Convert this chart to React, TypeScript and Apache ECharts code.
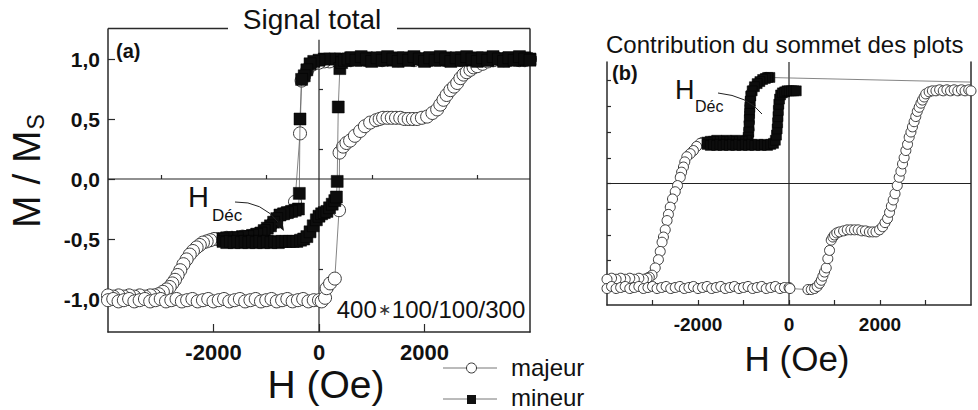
import React, { useEffect, useRef } from "react";
import * as echarts from "echarts";

const FONT = "'Liberation Sans', Arial, Helvetica, sans-serif";

// ---------- Panel (a) : Signal total ----------
const majeurA_desc: [number, number][] = [
  [4000, 1.0], [3900, 0.99], [3800, 1.0], [3700, 1.0], [3600, 0.99], [3500, 1.0], [3400, 1.0], [3300, 0.99],
  [3200, 1.0], [3100, 1.0], [3000, 0.99], [2900, 1.0], [2800, 1.0], [2700, 0.99], [2600, 1.0], [2500, 1.0],
  [2400, 0.99], [2300, 1.0], [2200, 1.0], [2100, 0.99], [2000, 1.0], [1900, 1.0], [1800, 0.99], [1700, 1.0],
  [1600, 1.0], [1500, 0.99], [1400, 1.0], [1300, 1.0], [1200, 0.99], [1100, 1.0], [1000, 1.0], [900, 0.99],
  [800, 1.0], [700, 1.0], [600, 0.99], [500, 0.99], [400, 0.99], [300, 0.99], [200, 0.98], [100, 0.98],
  [0, 0.97], [-100, 0.96], [-170, 0.94], [-230, 0.9], [-280, 0.86], [-330, 0.82], [-360, 0.38], [-455, -0.19],
  [-520, -0.27], [-600, -0.28], [-670, -0.29], [-740, -0.3], [-800, -0.33], [-860, -0.36], [-920, -0.39],
  [-980, -0.41], [-1040, -0.43], [-1100, -0.45], [-1180, -0.46], [-1260, -0.47], [-1350, -0.48], [-1450, -0.48],
  [-1550, -0.49], [-1650, -0.49], [-1750, -0.49], [-1850, -0.5], [-1920, -0.5], [-1990, -0.5], [-2060, -0.51],
  [-2130, -0.52], [-2200, -0.53], [-2260, -0.55], [-2320, -0.57], [-2390, -0.6], [-2450, -0.63], [-2510, -0.67],
  [-2570, -0.71], [-2630, -0.76], [-2680, -0.8], [-2730, -0.84], [-2780, -0.87], [-2830, -0.9], [-2890, -0.92],
  [-2960, -0.94], [-3040, -0.96], [-3120, -0.97], [-3200, -0.97], [-3300, -0.98], [-3400, -0.97], [-3500, -0.98],
  [-3600, -0.97], [-3700, -0.98], [-3800, -0.97], [-3900, -0.98], [-4000, -0.97],
];

const majeurA_asc: [number, number][] = [
  [-4000, -1.01], [-3900, -1.0], [-3800, -1.02], [-3700, -1.01], [-3600, -1.0], [-3500, -1.02], [-3400, -1.01],
  [-3300, -1.0], [-3200, -1.02], [-3100, -1.01], [-3000, -1.0], [-2900, -1.02], [-2800, -1.01], [-2700, -1.0],
  [-2600, -1.02], [-2500, -1.01], [-2400, -1.0], [-2300, -1.02], [-2200, -1.01], [-2100, -1.0], [-2000, -1.02],
  [-1900, -1.01], [-1800, -1.0], [-1700, -1.02], [-1600, -1.01], [-1500, -1.0], [-1400, -1.02], [-1300, -1.01],
  [-1200, -1.0], [-1100, -1.02], [-1000, -1.01], [-900, -1.0], [-800, -1.02], [-700, -1.01], [-600, -1.0],
  [-500, -1.02], [-400, -1.01], [-300, -1.0], [-200, -1.02], [-100, -1.01], [0, -1.01], [50, -1.02],
  [115, -0.99], [145, -0.91], [210, -0.87], [300, -0.83], [380, -0.26], [390, 0.22], [457, 0.27], [520, 0.3],
  [590, 0.32], [680, 0.36], [780, 0.4], [870, 0.44], [970, 0.47], [1080, 0.49], [1150, 0.5], [1215, 0.51],
  [1300, 0.51], [1380, 0.51], [1460, 0.51], [1540, 0.51], [1620, 0.5], [1700, 0.5], [1780, 0.5], [1860, 0.5],
  [1950, 0.51], [2050, 0.52], [2150, 0.55], [2240, 0.58], [2300, 0.62], [2360, 0.66], [2420, 0.7], [2490, 0.74],
  [2560, 0.77], [2620, 0.8], [2680, 0.84], [2740, 0.87], [2800, 0.89], [2870, 0.91], [2930, 0.93], [3000, 0.94],
  [3100, 0.96], [3200, 0.98], [3300, 0.99], [3400, 1.0], [3500, 0.99], [3600, 1.0], [3700, 1.0], [3800, 0.99],
  [3900, 1.0], [4000, 1.0],
];

const mineurA_desc: [number, number][] = [
  [4000, 1.0], [3900, 1.01], [3800, 0.99], [3700, 1.0], [3600, 1.01], [3500, 0.99], [3400, 1.0], [3300, 1.01],
  [3200, 0.99], [3100, 1.0], [3000, 1.01], [2900, 0.99], [2800, 1.0], [2700, 1.01], [2600, 0.99], [2500, 1.0],
  [2400, 1.01], [2300, 0.99], [2200, 1.0], [2100, 1.01], [2000, 0.99], [1900, 1.0], [1800, 1.01], [1700, 0.99],
  [1600, 1.0], [1500, 1.01], [1400, 0.99], [1300, 1.0], [1200, 1.01], [1100, 0.99], [1000, 1.0], [900, 1.01],
  [800, 0.99], [700, 1.0], [600, 1.01], [500, 0.99], [400, 1.0], [300, 1.0], [200, 1.0], [100, 1.0],
  [0, 0.99], [-100, 0.98], [-170, 0.96], [-230, 0.91], [-280, 0.86], [-330, 0.83], [-360, 0.5], [-373, -0.12],
  [-390, -0.25], [-450, -0.26], [-520, -0.27], [-600, -0.28], [-670, -0.29], [-740, -0.3], [-800, -0.33],
  [-860, -0.36], [-920, -0.39], [-980, -0.41], [-1040, -0.43], [-1100, -0.45], [-1180, -0.46], [-1260, -0.47],
  [-1350, -0.48], [-1450, -0.48], [-1550, -0.49], [-1650, -0.49], [-1750, -0.49], [-1820, -0.5],
];

const mineurA_asc: [number, number][] = [
  [-1820, -0.52], [-1750, -0.53], [-1680, -0.52], [-1610, -0.53], [-1540, -0.52], [-1470, -0.53], [-1400, -0.52],
  [-1330, -0.53], [-1260, -0.52], [-1190, -0.53], [-1120, -0.52], [-1050, -0.53], [-980, -0.52], [-910, -0.53],
  [-840, -0.52], [-770, -0.53], [-700, -0.52], [-630, -0.52], [-560, -0.52], [-490, -0.52], [-420, -0.52],
  [-350, -0.51], [-290, -0.5], [-230, -0.48], [-170, -0.44], [-110, -0.39], [-50, -0.34], [0, -0.31], [50, -0.29],
  [100, -0.28], [150, -0.27], [200, -0.24], [250, -0.21], [300, -0.18], [330, -0.15], [345, -0.02], [365, 0.6],
  [395, 0.92], [430, 0.97], [480, 0.99], [550, 1.0], [620, 1.01], [700, 0.99], [800, 1.02], [900, 1.0],
  [1000, 0.98], [1100, 1.01], [1200, 0.99], [1300, 1.02], [1400, 1.0], [1500, 0.98], [1600, 1.01], [1700, 0.99],
  [1800, 1.02], [1900, 1.0], [2000, 0.98], [2100, 1.01], [2200, 0.99], [2300, 1.02], [2400, 1.0], [2500, 0.98],
  [2600, 1.01], [2700, 0.99], [2800, 1.02], [2900, 1.0], [3000, 0.98], [3100, 1.01], [3200, 0.99], [3300, 1.02],
  [3400, 1.0], [3500, 0.98], [3600, 1.01], [3700, 0.99], [3800, 1.02], [3900, 1.0], [4000, 0.99],
];

// ---------- Panel (b) : Contribution du sommet des plots ----------
const majeurB_start: [number, number] = [4000, 0.985];
const majeurB_desc: [number, number][] = [
  [-495, 1.03], [-550, 1.02], [-620, 1.0], [-700, 0.97], [-780, 0.93], [-830, 0.88], [-850, 0.82], [-860, 0.75],
  [-868, 0.68], [-874, 0.6], [-880, 0.52], [-895, 0.46], [-940, 0.42], [-1050, 0.41], [-1150, 0.41], [-1250, 0.41],
  [-1350, 0.41], [-1450, 0.41], [-1550, 0.4], [-1650, 0.4], [-1750, 0.4], [-1850, 0.4], [-1900, 0.4], [-1950, 0.39],
  [-2030, 0.36], [-2100, 0.32], [-2170, 0.29], [-2245, 0.26], [-2290, 0.21], [-2320, 0.16], [-2360, 0.11],
  [-2390, 0.06], [-2450, -0.02], [-2500, -0.08], [-2560, -0.15], [-2610, -0.23], [-2650, -0.3], [-2680, -0.36],
  [-2720, -0.45], [-2760, -0.52], [-2790, -0.57], [-2830, -0.66], [-2870, -0.74], [-2940, -0.82], [-3010, -0.89],
  [-3070, -0.91], [-3120, -0.92], [-3200, -0.93], [-3300, -0.92], [-3400, -0.93], [-3500, -0.92], [-3600, -0.93],
  [-3700, -0.92], [-3800, -0.93], [-3900, -0.92], [-4000, -0.93],
];

const majeurB_asc: [number, number][] = [
  [-4000, -1.02], [-3900, -1.0], [-3800, -1.02], [-3700, -1.01], [-3600, -1.0], [-3500, -1.02], [-3400, -1.01],
  [-3300, -1.0], [-3200, -1.02], [-3100, -1.01], [-3000, -1.0], [-2900, -1.02], [-2800, -1.01], [-2700, -1.0],
  [-2600, -1.02], [-2500, -1.01], [-2400, -1.0], [-2300, -1.02], [-2200, -1.01], [-2100, -1.0], [-2000, -1.02],
  [-1900, -1.01], [-1800, -1.0], [-1700, -1.02], [-1600, -1.01], [-1500, -1.0], [-1400, -1.02], [-1300, -1.01],
  [-1200, -1.0], [-1100, -1.02], [-1000, -1.01], [-900, -1.0], [-800, -1.02], [-700, -1.01], [-600, -1.0],
  [-500, -1.02], [-400, -1.01], [-300, -1.0], [-200, -1.02], [-100, -1.01], [0, -1.01], [20, -1.02],
  [416, -1.03], [490, -1.03], [562, -1.02], [620, -1.0], [672, -0.97], [710, -0.94], [744, -0.9], [780, -0.86],
  [818, -0.82], [853, -0.73], [891, -0.65], [928, -0.55], [965, -0.52], [1000, -0.5], [1050, -0.48], [1110, -0.47],
  [1200, -0.46], [1280, -0.45], [1360, -0.45], [1440, -0.45], [1520, -0.45], [1600, -0.46], [1680, -0.46],
  [1766, -0.47], [1840, -0.47], [1912, -0.47], [1990, -0.45], [2057, -0.42], [2110, -0.38], [2166, -0.34],
  [2210, -0.28], [2250, -0.22], [2290, -0.16], [2330, -0.1], [2380, -0.02], [2422, 0.06], [2460, 0.12],
  [2495, 0.19], [2530, 0.25], [2568, 0.32], [2605, 0.38], [2641, 0.45], [2680, 0.5], [2713, 0.55], [2750, 0.6],
  [2786, 0.65], [2820, 0.7], [2860, 0.74], [2900, 0.78], [2932, 0.81], [2970, 0.84], [3006, 0.87], [3080, 0.89],
  [3151, 0.9], [3230, 0.9], [3310, 0.91], [3390, 0.9], [3470, 0.91], [3550, 0.9], [3630, 0.91], [3710, 0.9],
  [3790, 0.91], [3870, 0.9], [3950, 0.91], [4000, 0.9],
];

const mineurB_desc: [number, number][] = [
  [-420, 1.03], [-470, 1.03], [-520, 1.02], [-580, 1.01], [-640, 0.99], [-700, 0.97], [-760, 0.94], [-810, 0.9],
  [-840, 0.85], [-852, 0.8], [-860, 0.74], [-866, 0.68], [-872, 0.62], [-878, 0.56], [-884, 0.5], [-898, 0.45],
  [-940, 0.42], [-1030, 0.41], [-1100, 0.41], [-1170, 0.42], [-1240, 0.41], [-1310, 0.41], [-1380, 0.42],
  [-1450, 0.41], [-1520, 0.41], [-1590, 0.42], [-1660, 0.41], [-1730, 0.41], [-1800, 0.4],
];

const mineurB_asc: [number, number][] = [
  [-1800, 0.38], [-1730, 0.37], [-1660, 0.38], [-1590, 0.37], [-1520, 0.38], [-1450, 0.37], [-1380, 0.38],
  [-1310, 0.37], [-1240, 0.38], [-1170, 0.37], [-1100, 0.38], [-1030, 0.37], [-960, 0.38], [-890, 0.37],
  [-820, 0.38], [-750, 0.37], [-680, 0.38], [-610, 0.37], [-540, 0.38], [-470, 0.37], [-400, 0.38], [-340, 0.39],
  [-300, 0.42], [-275, 0.47], [-260, 0.53], [-250, 0.59], [-242, 0.65], [-234, 0.71], [-224, 0.77], [-208, 0.82],
  [-185, 0.86], [-145, 0.88], [-95, 0.89], [-45, 0.9], [5, 0.9], [55, 0.9], [105, 0.9], [160, 0.9],
];

// ---------- Axes values ----------
const H_MIN = -4000;
const H_MAX = 4000;
const xLabelValues = [-2000, 0, 2000];
const xMinorTicks = [-3000, -1000, 1000, 3000];
const xAllTicks = [-3000, -2000, -1000, 0, 1000, 2000, 3000];
const yA_min = -1.275;
const yA_max = 1.25;
const yA_labels = [-1, -0.5, 0, 0.5, 1];
const yA_minor = [-0.75, -0.25, 0.25, 0.75];
const yB_min = -1.18;
const yB_max = 1.18;
const yB_ticks = [-1, -0.75, -0.5, -0.25, 0, 0.25, 0.5, 0.75, 1];
const zeroLineA_v: [number, number][] = [[0, -1.275], [0, 1.16]];
const zeroLineB_v: [number, number][] = [[0, -1.18], [0, 1.18]];
const zeroLine_h: [number, number][] = [[-4000, 0], [4000, 0]];

const legendNames = ["majeur", "mineur"];

const AX = "#2a2a2a";

function circleSeries(data: any[], size: number, xi: number, yi: number) {
  return {
    type: "line",
    xAxisIndex: xi,
    yAxisIndex: yi,
    data,
    symbol: "circle",
    symbolSize: size,
    showSymbol: true,
    itemStyle: { color: "#ffffff", borderColor: "#3a3a3a", borderWidth: 1 },
    lineStyle: { color: "#666", width: 0.8 },
    silent: true,
    z: 3,
    emphasis: { disabled: true },
  };
}
function squareSeries(data: any[], size: number, xi: number, yi: number) {
  return {
    type: "line",
    xAxisIndex: xi,
    yAxisIndex: yi,
    data,
    symbol: "rect",
    symbolSize: size,
    showSymbol: true,
    itemStyle: { color: "#0d0d0d", borderColor: "#000", borderWidth: 0.5 },
    lineStyle: { color: "#666", width: 0.8 },
    silent: true,
    z: 4,
    emphasis: { disabled: true },
  };
}
function refLine(data: any[], xi: number, yi: number) {
  return {
    type: "line",
    xAxisIndex: xi,
    yAxisIndex: yi,
    data,
    symbol: "none",
    lineStyle: { color: "#222", width: 1.2 },
    silent: true,
    z: 1,
  };
}

const yFmt = (v: number) => v.toFixed(1).replace(".", ",");
const xFmt = (v: number) => String(Math.round(v));

export default function App() {
  const ref = useRef<HTMLDivElement>(null);
  useEffect(() => {
    const chart = echarts.init(ref.current!, null, { renderer: "svg" });
    const option: any = {
      animation: false,
      backgroundColor: "#ffffff",
      textStyle: { fontFamily: FONT },
      grid: [
        { left: 108, top: 29, width: 422, height: 303 },
        { left: 607, top: 62, width: 364, height: 243 },
      ],
      xAxis: [
        {
          gridIndex: 0, type: "value", min: H_MIN, max: H_MAX, position: "bottom",
          axisLine: { show: true, onZero: false, lineStyle: { color: AX, width: 1.5 } },
          axisTick: { show: true, inside: true, length: 8, customValues: xLabelValues, lineStyle: { color: AX, width: 1.2 } },
          axisLabel: { customValues: xLabelValues, formatter: xFmt, fontSize: 22, fontWeight: "bold", fontFamily: FONT, color: "#111", margin: 9 },
          splitLine: { show: false },
        },
        {
          gridIndex: 0, type: "value", min: H_MIN, max: H_MAX, position: "bottom",
          axisLine: { show: false },
          axisTick: { show: true, inside: true, length: 4, customValues: xMinorTicks, lineStyle: { color: AX, width: 1.2 } },
          axisLabel: { show: false },
          splitLine: { show: false },
        },
        {
          gridIndex: 1, type: "value", min: H_MIN, max: H_MAX, position: "bottom",
          axisLine: { show: true, onZero: false, lineStyle: { color: AX, width: 1.5 } },
          axisTick: { show: true, inside: true, length: 5, customValues: xAllTicks, lineStyle: { color: AX, width: 1.2 } },
          axisLabel: { customValues: xLabelValues, formatter: xFmt, fontSize: 19, fontWeight: "bold", fontFamily: FONT, color: "#111", margin: 10 },
          splitLine: { show: false },
        },
      ],
      yAxis: [
        {
          gridIndex: 0, type: "value", min: yA_min, max: yA_max, position: "left",
          axisLine: { show: true, onZero: false, lineStyle: { color: AX, width: 1.5 } },
          axisTick: { show: true, inside: true, length: 7, customValues: yA_labels, lineStyle: { color: AX, width: 1.2 } },
          axisLabel: { customValues: yA_labels, formatter: yFmt, fontSize: 21, fontWeight: "bold", fontFamily: FONT, color: "#111", margin: 8 },
          splitLine: { show: false },
        },
        {
          gridIndex: 0, type: "value", min: yA_min, max: yA_max, position: "left",
          axisLine: { show: false },
          axisTick: { show: true, inside: true, length: 4, customValues: yA_minor, lineStyle: { color: AX, width: 1.2 } },
          axisLabel: { show: false },
          splitLine: { show: false },
        },
        {
          gridIndex: 0, type: "value", min: yA_min, max: yA_max, position: "right",
          axisLine: { show: true, onZero: false, lineStyle: { color: AX, width: 1.5 } },
          axisTick: { show: false }, axisLabel: { show: false }, splitLine: { show: false },
        },
        {
          gridIndex: 1, type: "value", min: yB_min, max: yB_max, position: "left",
          axisLine: { show: true, onZero: false, lineStyle: { color: AX, width: 1.5 } },
          axisTick: { show: true, inside: true, length: 4, customValues: yB_ticks, lineStyle: { color: AX, width: 1.2 } },
          axisLabel: { show: false },
          splitLine: { show: false },
        },
        {
          gridIndex: 1, type: "value", min: yB_min, max: yB_max, position: "right",
          axisLine: { show: true, onZero: false, lineStyle: { color: AX, width: 1.5 } },
          axisTick: { show: false }, axisLabel: { show: false }, splitLine: { show: false },
        },
      ],
      series: [
        refLine(zeroLine_h, 0, 0),
        refLine(zeroLineA_v, 0, 0),
        circleSeries([...majeurA_desc, ...majeurA_asc], 13, 0, 0),
        squareSeries([...mineurA_desc, ...mineurA_asc], 12, 0, 0),
        refLine(zeroLine_h, 2, 3),
        refLine(zeroLineB_v, 2, 3),
        circleSeries([{ value: majeurB_start, symbol: "none" }, ...majeurB_desc, ...majeurB_asc], 10, 2, 3),
        squareSeries([...mineurB_desc, ...mineurB_asc], 10, 2, 3),
      ],
      graphic: [
        // top border of (a), interrupted by the title
        { type: "line", z: 50, shape: { x1: 108, y1: 28.5, x2: 228, y2: 28.5 }, style: { stroke: AX, lineWidth: 1.5 } },
        { type: "line", z: 50, shape: { x1: 397, y1: 28.5, x2: 530, y2: 28.5 }, style: { stroke: AX, lineWidth: 1.5 } },
        { type: "text", z: 50, x: 312, y: 19, style: { text: "Signal total", fontSize: 28, fontFamily: FONT, fill: "#111", align: "center", verticalAlign: "middle" } },
        { type: "text", z: 50, x: 606, y: 44, style: { text: "Contribution du sommet des plots", fontSize: 24, fontFamily: FONT, fill: "#111", align: "left", verticalAlign: "middle" } },
        { type: "text", z: 50, x: 116, y: 51, style: { text: "(a)", fontSize: 20, fontWeight: "bold", fontFamily: FONT, fill: "#111", align: "left", verticalAlign: "middle" } },
        { type: "text", z: 50, x: 612, y: 73, style: { text: "(b)", fontSize: 20, fontWeight: "bold", fontFamily: FONT, fill: "#111", align: "left", verticalAlign: "middle" } },
        {
          type: "text", z: 50, x: 431, y: 309,
          style: {
            text: "{n|400}{a|\u2217}{n|100/100/300}", align: "center", verticalAlign: "middle", fill: "#111",
            rich: {
              n: { fontSize: 24, fontFamily: FONT, fill: "#111", lineHeight: 26 },
              a: { fontSize: 16, fontFamily: FONT, fill: "#333", lineHeight: 26, padding: [0, 1, 0, 1] },
            },
          },
        },
        // axis titles
        { type: "text", z: 50, x: 326, y: 384, style: { text: "H (Oe)", fontSize: 39, fontFamily: FONT, fill: "#111", align: "center", verticalAlign: "middle" } },
        { type: "text", z: 50, x: 797, y: 358, style: { text: "H (Oe)", fontSize: 35, fontFamily: FONT, fill: "#111", align: "center", verticalAlign: "middle" } },
        {
          type: "text", z: 50, x: 26, y: 171, rotation: Math.PI / 2,
          style: {
            text: "{m|M / M}{s|S}", align: "center", verticalAlign: "middle", fill: "#111",
            rich: {
              m: { fontSize: 39, fontFamily: FONT, fill: "#111", lineHeight: 42 },
              s: { fontSize: 23, fontFamily: FONT, fill: "#111", verticalAlign: "bottom", lineHeight: 23, padding: [0, 0, 0, 1] },
            },
          },
        },
        // H_Déc annotation (a)
        { type: "text", z: 50, x: 188, y: 197, style: { text: "H", fontSize: 29, fontFamily: FONT, fill: "#111", align: "left", verticalAlign: "middle" } },
        { type: "text", z: 50, x: 212, y: 215, style: { text: "Déc", fontSize: 17, fontFamily: FONT, fill: "#111", align: "left", verticalAlign: "middle" } },
        { type: "bezierCurve", z: 50, shape: { x1: 235, y1: 202, cpx1: 262, cpy1: 201, x2: 279, y2: 223 }, style: { stroke: "#222", lineWidth: 1, fill: "none" } },
        { type: "polygon", z: 50, shape: { points: [[284, 231], [275, 224], [282, 219]] }, style: { fill: "#111" } },
        // H_Déc annotation (b)
        { type: "text", z: 50, x: 675, y: 90, style: { text: "H", fontSize: 27, fontFamily: FONT, fill: "#111", align: "left", verticalAlign: "middle" } },
        { type: "text", z: 50, x: 695, y: 106, style: { text: "Déc", fontSize: 16, fontFamily: FONT, fill: "#111", align: "left", verticalAlign: "middle" } },
        { type: "bezierCurve", z: 50, shape: { x1: 718, y1: 93, cpx1: 748, cpy1: 96, x2: 762, y2: 114 }, style: { stroke: "#222", lineWidth: 1, fill: "none" } },
        // legend
        { type: "line", z: 50, shape: { x1: 443, y1: 368, x2: 497, y2: 368 }, style: { stroke: "#777", lineWidth: 1 } },
        { type: "circle", z: 51, shape: { cx: 471.5, cy: 368, r: 5 }, style: { fill: "#fff", stroke: "#333", lineWidth: 1 } },
        { type: "text", z: 50, x: 511, y: 367, style: { text: legendNames[0], fontSize: 24, fontFamily: FONT, fill: "#111", align: "left", verticalAlign: "middle" } },
        { type: "line", z: 50, shape: { x1: 443, y1: 399, x2: 497, y2: 399 }, style: { stroke: "#777", lineWidth: 1 } },
        { type: "rect", z: 51, shape: { x: 467, y: 395, width: 9, height: 9 }, style: { fill: "#111" } },
        { type: "text", z: 50, x: 511, y: 397, style: { text: legendNames[1], fontSize: 24, fontFamily: FONT, fill: "#111", align: "left", verticalAlign: "middle" } },
      ],
    };
    chart.setOption(option);
    return () => chart.dispose();
  }, []);
  return (
    <div
      ref={ref}
      style={{ position: "fixed", left: 0, top: 0, width: 978, height: 410, background: "#fff" }}
    />
  );
}
